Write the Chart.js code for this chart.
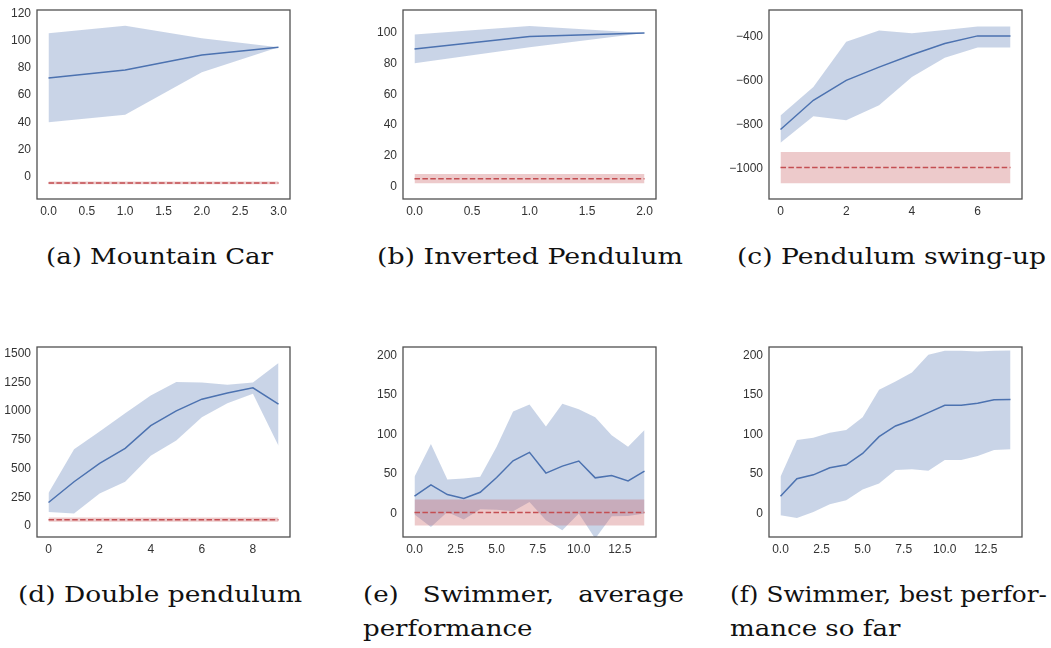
<!DOCTYPE html>
<html>
<head>
<meta charset="utf-8">
<script src="https://cdn.jsdelivr.net/npm/chart.js@4/dist/chart.umd.min.js"></script>
<style>
  html, body { margin: 0; padding: 0; background: #fff; }
  body { width: 1051px; height: 648px; position: relative; overflow: hidden; }
  canvas { position: absolute; }
  .cap {
    position: absolute; white-space: nowrap;
    font-family: 'DejaVu Serif', serif; font-size: 22px; line-height: 22px;
    color: #111; transform-origin: 0 0;
  }
</style>
</head>
<body>
<script>
// ---------- (a) Mountain Car ----------
const mcSteps  = [0, 1, 2, 3];
const mcMean   = [72.5, 78.4, 89.4, 95.0];
const mcHigh   = [105.4, 110.8, 101.7, 95.0];
const mcLow    = [40.0, 45.4, 76.6, 95.0];
const mcRandom = [-5.6, -4.6, -3.6];          // low, mean, high
const mcXTicks = [0, 0.5, 1, 1.5, 2, 2.5, 3];
const mcYTicks = [0, 20, 40, 60, 80, 100, 120];

// ---------- (b) Inverted Pendulum ----------
const ipSteps  = [0, 1, 2];
const ipMean   = [89.6, 97.6, 100];
const ipHigh   = [98.9, 104.5, 100];
const ipLow    = [80.3, 90.7, 100];
const ipRandom = [2.2, 5.2, 8.2];
const ipXTicks = [0, 0.5, 1, 1.5, 2];
const ipYTicks = [0, 20, 40, 60, 80, 100];

// ---------- (c) Pendulum swing-up ----------
const psSteps  = [0, 1, 2, 3, 4, 5, 6, 7];
const psMean   = [-821, -689, -599, -539, -483, -432, -398, -398];
const psHigh   = [-758, -629, -424, -374, -386, -371, -355, -355];
const psLow    = [-881, -761, -779, -711, -584, -497, -450, -450];
const psRandom = [-1064, -993, -923];
const psXTicks = [0, 2, 4, 6];
const psYTicks = [-1000, -800, -600, -400];

// ---------- (d) Double pendulum ----------
const dpSteps  = [0, 1, 2, 3, 4, 5, 6, 7, 8, 9];
const dpMean   = [204, 385, 545, 676, 874, 1002, 1104, 1157, 1203, 1060];
const dpHigh   = [288, 667, 822, 982, 1136, 1253, 1250, 1230, 1250, 1419];
const dpLow    = [122, 108, 283, 385, 612, 743, 947, 1069, 1151, 699];
const dpRandom = [37, 55, 73];
const dpXTicks = [0, 2, 4, 6, 8];
const dpYTicks = [0, 250, 500, 750, 1000, 1250, 1500];

// ---------- (e) Swimmer, average performance ----------
const swSteps   = [0, 1, 2, 3, 4, 5, 6, 7, 8, 9, 10, 11, 12, 13, 14];
const swAvgMean = [22, 36.4, 24, 19, 27, 45.7, 66.8, 77.4, 51.2, 60, 66.4, 45.2, 48.2, 41.4, 53.7];
const swAvgHigh = [46.5, 88, 43, 44.4, 46.5, 84.6, 129, 138, 110, 138.7, 132, 121.8, 99, 84.6, 105.7];
const swAvgLow  = [-1.3, -17, 2, -7.6, 5.5, 5, 3, 14.8, -8.5, -21, 0, -31.7, -3.4, -3, 0];
const swRandom  = [-15.2, 1.3, 17.8];
const swXTicks  = [0, 2.5, 5, 7.5, 10, 12.5];
const swYTicks  = [0, 50, 100, 150, 200];

// ---------- (f) Swimmer, best performance so far ----------
const swBestMean = [22, 44, 49, 58, 61.7, 76, 97.3, 110.8, 118.4, 127.7, 137, 137, 139.5, 143.8, 144.2];
const swBestHigh = [46.5, 93, 96, 102.3, 105.7, 121.8, 156.4, 167, 178.4, 200.8, 206, 206, 205, 206, 206.3];
const swBestLow  = [-2, -5.5, 2, 11.8, 17, 30.4, 38, 55, 56.2, 54, 67.7, 67.7, 72.7, 80.3, 81.2];

// ---------- styling ----------
const BLUE = '#4c72b0', BLUE_FILL = 'rgba(76,114,176,0.3)';
const RED  = '#c44e52', RED_FILL  = 'rgba(196,78,82,0.3)';
const NONE = 'rgba(0,0,0,0)';
const AXIS_W = 50, AXIS_H = 28, PAD_T = 12, PAD_R = 12;
const TICK_FONT = { family: "'Liberation Sans', Arial, sans-serif", size: 12 };

const frame = {
  id: 'frame',
  afterDatasetsDraw(chart) {
    const { ctx, chartArea: a } = chart;
    ctx.save();
    ctx.strokeStyle = '#505050';
    ctx.lineWidth = 1.3;
    ctx.strokeRect(a.left, a.top, a.right - a.left, a.bottom - a.top);
    ctx.restore();
  }
};

const pts = (xs, ys) => xs.map((x, i) => ({ x, y: ys[i] }));
const minus = v => String(v).replace('-', '\u2212');

function panel(p) {
  const [L, R, T, B] = p.box;
  const W = (R - L) + AXIS_W + PAD_R, H = (B - T) + PAD_T + AXIS_H;
  const cv = document.createElement('canvas');
  cv.width = W; cv.height = H;
  cv.style.left = (L - AXIS_W) + 'px';
  cv.style.top = (T - PAD_T) + 'px';
  cv.style.width = W + 'px';
  cv.style.height = H + 'px';
  document.body.appendChild(cv);

  const datasets = [];
  if (p.random) {
    const ends = [p.x[0], p.x[p.x.length - 1]];
    const [lo, mid, hi] = p.random;
    datasets.push({ data: ends.map(x => ({ x, y: mid })), borderColor: RED, borderWidth: 1.5,
                    borderDash: [5.5, 2.4], fill: false, order: 0 });
    datasets.push({ data: ends.map(x => ({ x, y: hi })), borderColor: NONE, borderWidth: 0,
                    backgroundColor: RED_FILL, fill: '+1', order: 1 });
    datasets.push({ data: ends.map(x => ({ x, y: lo })), borderColor: NONE, borderWidth: 0,
                    fill: false, order: 1 });
  }
  datasets.push({ data: pts(p.x, p.mean), borderColor: BLUE, borderWidth: 1.5, fill: false, order: 2 });
  datasets.push({ data: pts(p.x, p.high), borderColor: NONE, borderWidth: 0,
                  backgroundColor: BLUE_FILL, fill: '+1', order: 3 });
  datasets.push({ data: pts(p.x, p.low), borderColor: NONE, borderWidth: 0, fill: false, order: 3 });

  new Chart(cv, {
    type: 'line',
    data: { datasets },
    plugins: [frame],
    options: {
      responsive: false, animation: false, devicePixelRatio: 1, events: [],
      layout: { padding: { left: 0, top: PAD_T, right: PAD_R, bottom: 0 } },
      elements: { point: { radius: 0 }, line: { tension: 0 } },
      plugins: { legend: { display: false }, tooltip: { enabled: false } },
      scales: {
        x: {
          type: 'linear', min: p.xRange[0], max: p.xRange[1],
          grid: { display: false, drawTicks: false }, border: { display: false },
          afterBuildTicks: s => { s.ticks = p.xTicks.map(v => ({ value: v })); },
          afterFit: s => { s.height = AXIS_H; s.paddingLeft = 0; s.paddingRight = 0; },
          ticks: { autoSkip: false, maxRotation: 0, padding: 5, color: '#333', font: TICK_FONT,
                   callback: v => v.toFixed(p.xDec) }
        },
        y: {
          type: 'linear', min: p.yRange[0], max: p.yRange[1],
          grid: { display: false, drawTicks: false }, border: { display: false },
          afterBuildTicks: s => { s.ticks = p.yTicks.map(v => ({ value: v })); },
          afterFit: s => { s.width = AXIS_W; s.paddingTop = 0; s.paddingBottom = 0; },
          ticks: { autoSkip: false, padding: 6, color: '#333', font: TICK_FONT,
                   callback: v => minus(v) }
        }
      }
    }
  });
}

panel({ box: [37, 290, 10, 199], x: mcSteps, mean: mcMean, high: mcHigh, low: mcLow, random: mcRandom,
        xRange: [-0.15, 3.15], yRange: [-16.4, 122.4], xTicks: mcXTicks, yTicks: mcYTicks, xDec: 1 });
panel({ box: [403, 656, 10, 199], x: ipSteps, mean: ipMean, high: ipHigh, low: ipLow, random: ipRandom,
        xRange: [-0.1, 2.1], yRange: [-8, 114.9], xTicks: ipXTicks, yTicks: ipYTicks, xDec: 1 });
panel({ box: [769, 1022, 10, 199], x: psSteps, mean: psMean, high: psHigh, low: psLow, random: psRandom,
        xRange: [-0.35, 7.35], yRange: [-1135, -281], xTicks: psXTicks, yTicks: psYTicks, xDec: 0 });
panel({ box: [37, 290, 347, 537], x: dpSteps, mean: dpMean, high: dpHigh, low: dpLow, random: dpRandom,
        xRange: [-0.45, 9.45], yRange: [-96, 1558], xTicks: dpXTicks, yTicks: dpYTicks, xDec: 0 });
panel({ box: [403, 656, 347, 537], x: swSteps, mean: swAvgMean, high: swAvgHigh, low: swAvgLow, random: swRandom,
        xRange: [-0.7, 14.7], yRange: [-29.6, 210.6], xTicks: swXTicks, yTicks: swYTicks, xDec: 1 });
panel({ box: [769, 1022, 347, 537], x: swSteps, mean: swBestMean, high: swBestHigh, low: swBestLow,
        xRange: [-0.7, 14.7], yRange: [-29.6, 210.6], xTicks: swXTicks, yTicks: swYTicks, xDec: 1 });

// ---------- sub-captions ----------
const CAP_SCALE = 1.185;      // horizontal stretch of the caption face
const CAP_BASE = 18.6;        // baseline offset inside a 22px line box
const captions = [
  { text: '(a) Mountain Car',          left: 46,  right: 273,  base: 265 },
  { text: '(b) Inverted Pendulum',     left: 377, right: 683,  base: 265 },
  { text: '(c) Pendulum swing-up',     left: 737, right: 1046, base: 265 },
  { text: '(d) Double pendulum',       left: 18,  right: 302,  base: 603 },
  { text: '(e) Swimmer, average',      left: 363, right: 684,  base: 603, justify: true },
  { text: 'performance',               left: 363,              base: 637 },
  { text: '(f) Swimmer, best perfor-', left: 730, right: 1047, base: 603, justify: true },
  { text: 'mance so far',              left: 730,              base: 637 }
];
for (const c of captions) {
  const el = document.createElement('div');
  el.className = 'cap';
  el.textContent = c.text;
  document.body.appendChild(el);
  const w = el.getBoundingClientRect().width;
  let sx = CAP_SCALE;
  if (c.right !== undefined) {
    const target = c.right - c.left;
    if (c.justify) {
      const gaps = c.text.split(' ').length - 1;
      const extra = target / sx - w;
      if (extra > 0) el.style.wordSpacing = (extra / gaps) + 'px';
      else sx = target / w;
    } else {
      sx = target / w;
    }
  }
  el.style.transform = `scaleX(${sx})`;
  el.style.left = c.left + 'px';
  el.style.top = (c.base - CAP_BASE) + 'px';
}
</script>
</body>
</html>
